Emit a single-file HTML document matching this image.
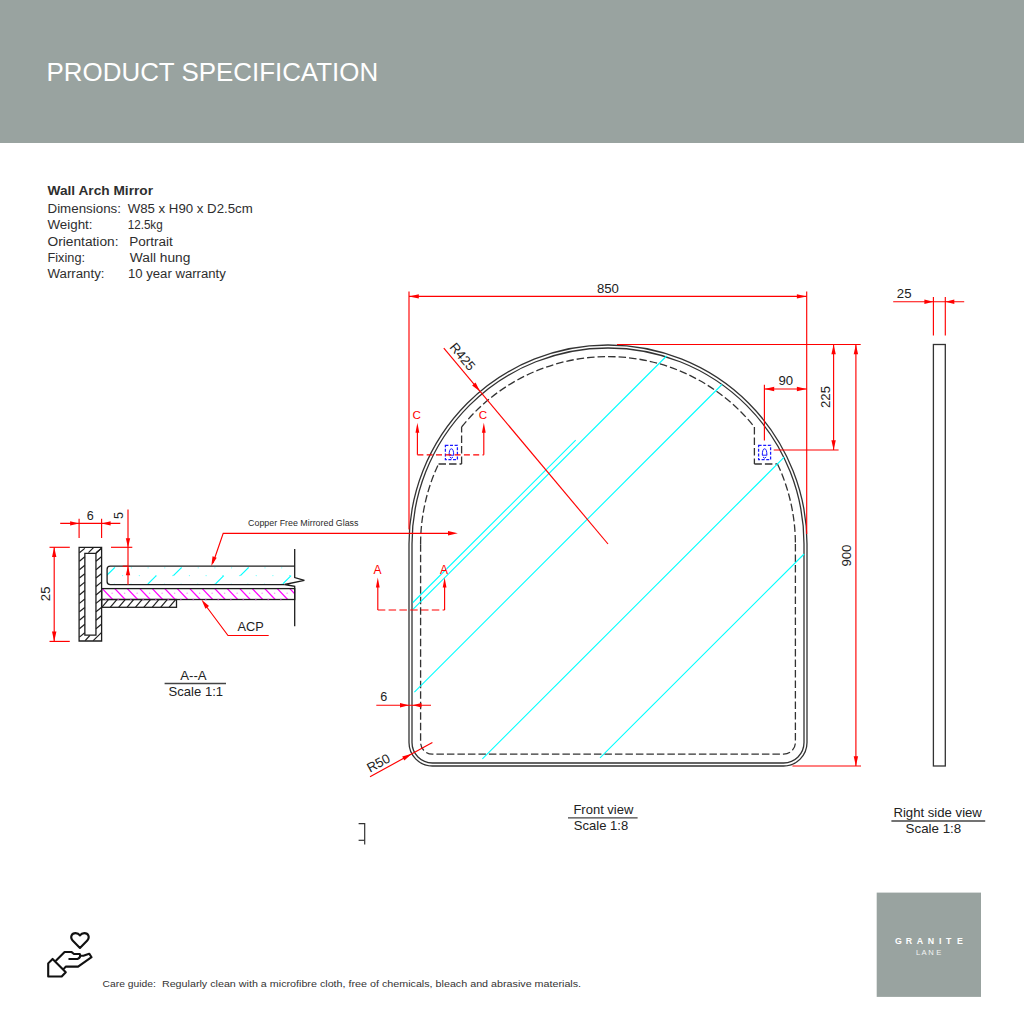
<!DOCTYPE html><html><head><meta charset="utf-8"><style>html,body{margin:0;padding:0;background:#fff;}svg{display:block;} text{font-family:"Liberation Sans",sans-serif;}</style></head><body><svg width="1024" height="1024" viewBox="0 0 1024 1024"><rect x="0" y="0" width="1024" height="143" fill="#99a3a0"/>
<text x="46.6" y="80.8" font-size="25.8" text-anchor="start" fill="#ffffff" font-family="Liberation Sans" font-weight="normal" textLength="331.5" lengthAdjust="spacingAndGlyphs" >PRODUCT SPECIFICATION</text>
<text x="47.5" y="194.8" font-size="12" text-anchor="start" fill="#2e2e2e" font-family="Liberation Sans" font-weight="bold" textLength="105.5" lengthAdjust="spacingAndGlyphs" >Wall Arch Mirror</text>
<text x="47.5" y="212.6" font-size="12" text-anchor="start" fill="#2e2e2e" font-family="Liberation Sans" font-weight="normal" textLength="73.5" lengthAdjust="spacingAndGlyphs" >Dimensions:</text>
<text x="127.7" y="212.6" font-size="12" text-anchor="start" fill="#2e2e2e" font-family="Liberation Sans" font-weight="normal" textLength="125" lengthAdjust="spacingAndGlyphs" >W85 x H90 x D2.5cm</text>
<text x="47.5" y="228.7" font-size="12" text-anchor="start" fill="#2e2e2e" font-family="Liberation Sans" font-weight="normal" textLength="45" lengthAdjust="spacingAndGlyphs" >Weight:</text>
<text x="127.7" y="228.7" font-size="12" text-anchor="start" fill="#2e2e2e" font-family="Liberation Sans" font-weight="normal" textLength="35" lengthAdjust="spacingAndGlyphs" >12.5kg</text>
<text x="47.5" y="245.5" font-size="12" text-anchor="start" fill="#2e2e2e" font-family="Liberation Sans" font-weight="normal" textLength="71" lengthAdjust="spacingAndGlyphs" >Orientation:</text>
<text x="129.2" y="245.5" font-size="12" text-anchor="start" fill="#2e2e2e" font-family="Liberation Sans" font-weight="normal" textLength="43.6" lengthAdjust="spacingAndGlyphs" >Portrait</text>
<text x="47.5" y="262.0" font-size="12" text-anchor="start" fill="#2e2e2e" font-family="Liberation Sans" font-weight="normal" textLength="37.5" lengthAdjust="spacingAndGlyphs" >Fixing:</text>
<text x="129.8" y="262.0" font-size="12" text-anchor="start" fill="#2e2e2e" font-family="Liberation Sans" font-weight="normal" textLength="60.6" lengthAdjust="spacingAndGlyphs" >Wall hung</text>
<text x="47.5" y="278.2" font-size="12" text-anchor="start" fill="#2e2e2e" font-family="Liberation Sans" font-weight="normal" textLength="57" lengthAdjust="spacingAndGlyphs" >Warranty:</text>
<text x="128" y="278.2" font-size="12" text-anchor="start" fill="#2e2e2e" font-family="Liberation Sans" font-weight="normal" textLength="97.8" lengthAdjust="spacingAndGlyphs" >10 year warranty</text>
<path d="M 409,544.0 A 199 199 0 0 1 807,544.0 L 807,742.6 A 23.4 23.4 0 0 1 783.6,766 L 432.4,766 A 23.4 23.4 0 0 1 409,742.6 Z" fill="none" stroke="#333333" stroke-width="1.3"/>
<path d="M 412,544.0 A 196 196 0 0 1 804,544.0 L 804,742.6 A 20.4 20.4 0 0 1 783.6,763 L 432.4,763 A 20.4 20.4 0 0 1 412,742.6 Z" fill="none" stroke="#333333" stroke-width="1.3"/>
<path d="M 420.6,544.0 A 187.4 187.4 0 0 1 438.53,464.0 M 438.53,464.0 L 461.6,464.0 M 461.6,464.0 L 461.6,427.01 M 461.6,427.01 A 187.4 187.4 0 0 1 754.4,427.01 M 754.4,427.01 L 754.4,464.0 M 754.4,464.0 L 777.47,464.0 M 777.47,464.0 A 187.4 187.4 0 0 1 795.4,544.0 M 795.4,544.0 L 795.4,742.4000000000001 A 11.8 11.8 0 0 1 783.6,754.2 L 432.40000000000003,754.2 A 11.8 11.8 0 0 1 420.6,742.4000000000001 L 420.6,544.0" fill="none" stroke="#333333" stroke-width="1.3" stroke-dasharray="7.5 3"/>
<line x1="412.9" y1="602.5" x2="575.7" y2="440.2" stroke="#00ffff" stroke-width="1.1" />
<line x1="413.2" y1="609.1" x2="666.6" y2="356" stroke="#00ffff" stroke-width="1.1" />
<line x1="414.4" y1="692.2" x2="722" y2="384.5" stroke="#00ffff" stroke-width="1.1" />
<line x1="482.4" y1="758.8" x2="784.2" y2="457.2" stroke="#00ffff" stroke-width="1.1" />
<line x1="600" y1="757.9" x2="804.1" y2="554.0" stroke="#00ffff" stroke-width="1.1" />
<rect x="445.4" y="445.4" width="12" height="14.2" fill="none" stroke="#1a1aff" stroke-width="1.25" stroke-dasharray="3 1.6"/>
<path d="M 449.09999999999997,455 Q 449.2,448.8 451.4,448.8 Q 453.59999999999997,448.8 453.7,455 M 448.79999999999995,455.2 H 454.0 M 449.79999999999995,457 L 451.4,458.2 L 453.0,457" fill="none" stroke="#1a1aff" stroke-width="1"/>
<rect x="758.6" y="445.4" width="12" height="14.2" fill="none" stroke="#1a1aff" stroke-width="1.25" stroke-dasharray="3 1.6"/>
<path d="M 762.3000000000001,455 Q 762.4,448.8 764.6,448.8 Q 766.8000000000001,448.8 766.9,455 M 762.0,455.2 H 767.2 M 763.0,457 L 764.6,458.2 L 766.2,457" fill="none" stroke="#1a1aff" stroke-width="1"/>
<line x1="409" y1="291.5" x2="409" y2="529.5" stroke="#ff0000" stroke-width="1.15" />
<line x1="806.7" y1="291.5" x2="806.7" y2="534" stroke="#ff0000" stroke-width="1.15" />
<line x1="409" y1="296.4" x2="806.7" y2="296.4" stroke="#ff0000" stroke-width="1.15" />
<polygon points="409.00,296.40 418.80,294.20 418.80,298.60" fill="#ff0000"/>
<polygon points="806.70,296.40 796.90,298.60 796.90,294.20" fill="#ff0000"/>
<text x="607.9" y="292.7" font-size="13.2" text-anchor="middle" fill="#222" font-family="Liberation Sans" font-weight="normal" >850</text>
<line x1="617" y1="344.5" x2="860.7" y2="344.5" stroke="#ff0000" stroke-width="1.15" />
<line x1="773.7" y1="450" x2="838.6" y2="450" stroke="#ff0000" stroke-width="1.15" />
<line x1="833.6" y1="344.5" x2="833.6" y2="450" stroke="#ff0000" stroke-width="1.15" />
<polygon points="833.60,344.50 835.80,354.30 831.40,354.30" fill="#ff0000"/>
<polygon points="833.60,450.00 831.40,440.20 835.80,440.20" fill="#ff0000"/>
<text x="825.2" y="397" font-size="13.2" text-anchor="middle" fill="#222" font-family="Liberation Sans" font-weight="normal" transform="rotate(-90 825.2 397)" dominant-baseline="central">225</text>
<line x1="855.9" y1="344.5" x2="855.9" y2="766" stroke="#ff0000" stroke-width="1.15" />
<polygon points="855.90,344.50 858.10,354.30 853.70,354.30" fill="#ff0000"/>
<polygon points="855.90,766.00 853.70,756.20 858.10,756.20" fill="#ff0000"/>
<line x1="792.4" y1="766" x2="861" y2="766" stroke="#ff0000" stroke-width="1.15" />
<text x="847" y="555.6" font-size="13.2" text-anchor="middle" fill="#222" font-family="Liberation Sans" font-weight="normal" transform="rotate(-90 847 555.6)" dominant-baseline="central">900</text>
<line x1="764.4" y1="384.7" x2="764.4" y2="440.6" stroke="#ff0000" stroke-width="1.15" />
<line x1="764.4" y1="389" x2="806.7" y2="389" stroke="#ff0000" stroke-width="1.15" />
<polygon points="764.40,389.00 774.20,386.80 774.20,391.20" fill="#ff0000"/>
<polygon points="806.70,389.00 796.90,391.20 796.90,386.80" fill="#ff0000"/>
<text x="785.8" y="385.3" font-size="13.2" text-anchor="middle" fill="#222" font-family="Liberation Sans" font-weight="normal" >90</text>
<line x1="443.8" y1="348.2" x2="608" y2="544" stroke="#ff0000" stroke-width="1.15" />
<polygon points="480.13,391.52 472.15,385.43 475.52,382.60" fill="#ff0000"/>
<text x="462.5" y="356.7" font-size="13.2" text-anchor="middle" fill="#222" font-family="Liberation Sans" font-weight="normal" transform="rotate(50.016438783343126 462.5 356.7)" dominant-baseline="central">R425</text>
<line x1="417.4" y1="454.8" x2="483.8" y2="454.8" stroke="#ff0000" stroke-width="1.15" stroke-dasharray="6 3.3"/>
<line x1="417.4" y1="454.8" x2="417.4" y2="430" stroke="#ff0000" stroke-width="1.15" />
<polygon points="417.40,422.80 419.30,432.80 415.50,432.80" fill="#ff0000"/>
<line x1="483.8" y1="454.8" x2="483.8" y2="430" stroke="#ff0000" stroke-width="1.15" />
<polygon points="483.80,422.80 485.70,432.80 481.90,432.80" fill="#ff0000"/>
<text x="416.6" y="419.4" font-size="11.6" text-anchor="middle" fill="#ff0000" font-family="Liberation Sans" font-weight="normal" >C</text>
<text x="483" y="419.4" font-size="11.6" text-anchor="middle" fill="#ff0000" font-family="Liberation Sans" font-weight="normal" >C</text>
<line x1="377.8" y1="610" x2="444.6" y2="610" stroke="#ff0000" stroke-width="1.15" stroke-dasharray="7.5 3.3"/>
<line x1="377.8" y1="610" x2="377.8" y2="585" stroke="#ff0000" stroke-width="1.15" />
<polygon points="377.80,577.60 379.70,587.60 375.90,587.60" fill="#ff0000"/>
<line x1="444.6" y1="610" x2="444.6" y2="585" stroke="#ff0000" stroke-width="1.15" />
<polygon points="444.60,577.60 446.50,587.60 442.70,587.60" fill="#ff0000"/>
<text x="377.6" y="574.4" font-size="12" text-anchor="middle" fill="#ff0000" font-family="Liberation Sans" font-weight="normal" >A</text>
<text x="444.1" y="574.4" font-size="12" text-anchor="middle" fill="#ff0000" font-family="Liberation Sans" font-weight="normal" >A</text>
<polyline points="451,533.3 223.2,533.3 213,563" fill="none" stroke="#ff0000" stroke-width="1.15"/>
<polygon points="457.80,533.30 448.00,535.50 448.00,531.10" fill="#ff0000"/>
<polygon points="211.30,566.10 212.56,556.14 216.70,557.63" fill="#ff0000"/>
<line x1="376.3" y1="705.2" x2="431" y2="705.2" stroke="#ff0000" stroke-width="1.15" />
<polygon points="409.00,705.20 400.00,707.40 400.00,703.00" fill="#ff0000"/>
<polygon points="412.50,705.20 421.50,703.00 421.50,707.40" fill="#ff0000"/>
<text x="383.7" y="701.3" font-size="12.6" text-anchor="middle" fill="#222" font-family="Liberation Sans" font-weight="normal" >6</text>
<line x1="370" y1="776.7" x2="432.4" y2="742.6" stroke="#ff0000" stroke-width="1.15" />
<polygon points="411.86,753.82 404.32,760.45 402.21,756.59" fill="#ff0000"/>
<text x="378.4" y="763" font-size="13.2" text-anchor="middle" fill="#222" font-family="Liberation Sans" font-weight="normal" transform="rotate(-28.7 378.4 763)" dominant-baseline="central">R50</text>
<polyline points="358.6,823.7 364.7,823.7 364.7,844.6" fill="none" stroke="#333333" stroke-width="1.2"/>
<line x1="358.6" y1="840.3" x2="364.7" y2="840.3" stroke="#333333" stroke-width="1.2" />
<text x="573.4" y="814.2" font-size="12.4" text-anchor="start" fill="#222" font-family="Liberation Sans" font-weight="normal" textLength="60.0" lengthAdjust="spacingAndGlyphs" >Front view</text>
<line x1="568" y1="817.8" x2="637.6" y2="817.8" stroke="#444" stroke-width="1.3" />
<text x="573.8" y="830" font-size="12.4" text-anchor="start" fill="#222" font-family="Liberation Sans" font-weight="normal" textLength="54.4" lengthAdjust="spacingAndGlyphs" >Scale 1:8</text>
<text x="893.4" y="816.8" font-size="12.4" text-anchor="start" fill="#222" font-family="Liberation Sans" font-weight="normal" textLength="88.5" lengthAdjust="spacingAndGlyphs" >Right side view</text>
<line x1="891.4" y1="821" x2="985.2" y2="821" stroke="#444" stroke-width="1.3" />
<text x="905.6" y="832.6" font-size="12.4" text-anchor="start" fill="#222" font-family="Liberation Sans" font-weight="normal" textLength="55.6" lengthAdjust="spacingAndGlyphs" >Scale 1:8</text>
<text x="180.2" y="680.2" font-size="12.4" text-anchor="start" fill="#222" font-family="Liberation Sans" font-weight="normal" textLength="26.4" lengthAdjust="spacingAndGlyphs" >A--A</text>
<line x1="164.6" y1="683.5" x2="226" y2="683.5" stroke="#444" stroke-width="1.3" />
<text x="168.6" y="696" font-size="12.4" text-anchor="start" fill="#222" font-family="Liberation Sans" font-weight="normal" textLength="54.5" lengthAdjust="spacingAndGlyphs" >Scale 1:1</text>
<rect x="933.4" y="344.5" width="11.9" height="421.5" fill="none" stroke="#333333" stroke-width="1.3"/>
<line x1="893.2" y1="301.7" x2="964.2" y2="301.7" stroke="#ff0000" stroke-width="1.15" />
<line x1="933.4" y1="297" x2="933.4" y2="335.6" stroke="#ff0000" stroke-width="1.15" />
<line x1="945.3" y1="297" x2="945.3" y2="335.6" stroke="#ff0000" stroke-width="1.15" />
<polygon points="933.40,301.70 924.40,303.90 924.40,299.50" fill="#ff0000"/>
<polygon points="945.30,301.70 954.30,299.50 954.30,303.90" fill="#ff0000"/>
<text x="904.2" y="298" font-size="13.2" text-anchor="middle" fill="#222" font-family="Liberation Sans" font-weight="normal" >25</text>
<defs><clipPath id="cpg"><path d="M 294.7,566.2 H 110.2 Q 107.1,566.2 107.1,569.3 V 581.5 Q 107.1,584.6 110.2,584.6 H 294.7 Z"/></clipPath><clipPath id="cpa"><rect x="101.7" y="588.6" width="193" height="10.9"/></clipPath><clipPath id="cpb"><rect x="101.7" y="599.5" width="74.8" height="7.8"/></clipPath></defs>
<path d="M 79.1,547.3 H 101.6 V 641.0 H 79.1 Z M 84.85,553.3 V 635.2 H 95.95 V 553.3 Z" fill="none" stroke="#1e1e1e" stroke-width="1.3"/>
<line x1="79.4" y1="552.8" x2="84.8" y2="548.4" stroke="#1e1e1e" stroke-width="1.2" />
<line x1="96.0" y1="552.8" x2="101.4" y2="548.4" stroke="#1e1e1e" stroke-width="1.2" />
<line x1="79.4" y1="561.23" x2="84.8" y2="556.83" stroke="#1e1e1e" stroke-width="1.2" />
<line x1="96.0" y1="561.23" x2="101.4" y2="556.83" stroke="#1e1e1e" stroke-width="1.2" />
<line x1="79.4" y1="569.66" x2="84.8" y2="565.26" stroke="#1e1e1e" stroke-width="1.2" />
<line x1="96.0" y1="569.66" x2="101.4" y2="565.26" stroke="#1e1e1e" stroke-width="1.2" />
<line x1="79.4" y1="578.09" x2="84.8" y2="573.69" stroke="#1e1e1e" stroke-width="1.2" />
<line x1="96.0" y1="578.09" x2="101.4" y2="573.69" stroke="#1e1e1e" stroke-width="1.2" />
<line x1="79.4" y1="586.52" x2="84.8" y2="582.12" stroke="#1e1e1e" stroke-width="1.2" />
<line x1="96.0" y1="586.52" x2="101.4" y2="582.12" stroke="#1e1e1e" stroke-width="1.2" />
<line x1="79.4" y1="594.95" x2="84.8" y2="590.55" stroke="#1e1e1e" stroke-width="1.2" />
<line x1="96.0" y1="594.95" x2="101.4" y2="590.55" stroke="#1e1e1e" stroke-width="1.2" />
<line x1="79.4" y1="603.38" x2="84.8" y2="598.98" stroke="#1e1e1e" stroke-width="1.2" />
<line x1="96.0" y1="603.38" x2="101.4" y2="598.98" stroke="#1e1e1e" stroke-width="1.2" />
<line x1="79.4" y1="611.81" x2="84.8" y2="607.41" stroke="#1e1e1e" stroke-width="1.2" />
<line x1="96.0" y1="611.81" x2="101.4" y2="607.41" stroke="#1e1e1e" stroke-width="1.2" />
<line x1="79.4" y1="620.24" x2="84.8" y2="615.84" stroke="#1e1e1e" stroke-width="1.2" />
<line x1="96.0" y1="620.24" x2="101.4" y2="615.84" stroke="#1e1e1e" stroke-width="1.2" />
<line x1="79.4" y1="628.67" x2="84.8" y2="624.27" stroke="#1e1e1e" stroke-width="1.2" />
<line x1="96.0" y1="628.67" x2="101.4" y2="624.27" stroke="#1e1e1e" stroke-width="1.2" />
<line x1="79.4" y1="637.1" x2="84.8" y2="632.7" stroke="#1e1e1e" stroke-width="1.2" />
<line x1="88.5" y1="552.6" x2="93.5" y2="547.6" stroke="#1e1e1e" stroke-width="1.2" />
<line x1="96.0" y1="553.4" x2="101.4" y2="548.2" stroke="#1e1e1e" stroke-width="1.2" />
<line x1="85.2" y1="640.6" x2="89.8" y2="635.5" stroke="#1e1e1e" stroke-width="1.2" />
<line x1="93.2" y1="640.6" x2="101.4" y2="632.6" stroke="#1e1e1e" stroke-width="1.2" />
<rect x="101.7" y="599.5" width="74.8" height="7.8" fill="none" stroke="#1e1e1e" stroke-width="1.3"/>
<g clip-path="url(#cpb)"><line x1="101.8" y1="607.3" x2="108.4" y2="599.7" stroke="#1e1e1e" stroke-width="1.2" /><line x1="110.2" y1="607.3" x2="116.8" y2="599.7" stroke="#1e1e1e" stroke-width="1.2" /><line x1="118.6" y1="607.3" x2="125.2" y2="599.7" stroke="#1e1e1e" stroke-width="1.2" /><line x1="127.0" y1="607.3" x2="133.6" y2="599.7" stroke="#1e1e1e" stroke-width="1.2" /><line x1="135.4" y1="607.3" x2="142.0" y2="599.7" stroke="#1e1e1e" stroke-width="1.2" /><line x1="143.8" y1="607.3" x2="150.4" y2="599.7" stroke="#1e1e1e" stroke-width="1.2" /><line x1="152.2" y1="607.3" x2="158.8" y2="599.7" stroke="#1e1e1e" stroke-width="1.2" /><line x1="160.6" y1="607.3" x2="167.2" y2="599.7" stroke="#1e1e1e" stroke-width="1.2" /><line x1="169.0" y1="607.3" x2="175.6" y2="599.7" stroke="#1e1e1e" stroke-width="1.2" /><line x1="177.4" y1="607.3" x2="184.0" y2="599.7" stroke="#1e1e1e" stroke-width="1.2" /></g>
<g clip-path="url(#cpa)"><line x1="102.3" y1="588.6" x2="112.7" y2="599.5" stroke="#ff00ff" stroke-width="1.25" /><line x1="114.8" y1="588.6" x2="125.2" y2="599.5" stroke="#ff00ff" stroke-width="1.25" /><line x1="127.3" y1="588.6" x2="137.7" y2="599.5" stroke="#ff00ff" stroke-width="1.25" /><line x1="139.8" y1="588.6" x2="150.2" y2="599.5" stroke="#ff00ff" stroke-width="1.25" /><line x1="152.3" y1="588.6" x2="162.7" y2="599.5" stroke="#ff00ff" stroke-width="1.25" /><line x1="164.8" y1="588.6" x2="175.2" y2="599.5" stroke="#ff00ff" stroke-width="1.25" /><line x1="177.3" y1="588.6" x2="187.7" y2="599.5" stroke="#ff00ff" stroke-width="1.25" /><line x1="189.8" y1="588.6" x2="200.2" y2="599.5" stroke="#ff00ff" stroke-width="1.25" /><line x1="202.3" y1="588.6" x2="212.7" y2="599.5" stroke="#ff00ff" stroke-width="1.25" /><line x1="214.8" y1="588.6" x2="225.2" y2="599.5" stroke="#ff00ff" stroke-width="1.25" /><line x1="227.3" y1="588.6" x2="237.7" y2="599.5" stroke="#ff00ff" stroke-width="1.25" /><line x1="239.8" y1="588.6" x2="250.2" y2="599.5" stroke="#ff00ff" stroke-width="1.25" /><line x1="252.3" y1="588.6" x2="262.7" y2="599.5" stroke="#ff00ff" stroke-width="1.25" /><line x1="264.8" y1="588.6" x2="275.2" y2="599.5" stroke="#ff00ff" stroke-width="1.25" /><line x1="277.3" y1="588.6" x2="287.7" y2="599.5" stroke="#ff00ff" stroke-width="1.25" /><line x1="289.8" y1="588.6" x2="300.2" y2="599.5" stroke="#ff00ff" stroke-width="1.25" /></g>
<circle cx="112.1" cy="593.2" r="0.75" fill="#ff88ff"/>
<circle cx="124.6" cy="593.2" r="0.75" fill="#ff88ff"/>
<circle cx="137.1" cy="593.2" r="0.75" fill="#ff88ff"/>
<circle cx="149.6" cy="593.2" r="0.75" fill="#ff88ff"/>
<circle cx="162.1" cy="593.2" r="0.75" fill="#ff88ff"/>
<circle cx="174.6" cy="593.2" r="0.75" fill="#ff88ff"/>
<circle cx="187.1" cy="593.2" r="0.75" fill="#ff88ff"/>
<circle cx="199.6" cy="593.2" r="0.75" fill="#ff88ff"/>
<circle cx="212.1" cy="593.2" r="0.75" fill="#ff88ff"/>
<circle cx="224.6" cy="593.2" r="0.75" fill="#ff88ff"/>
<circle cx="237.1" cy="593.2" r="0.75" fill="#ff88ff"/>
<circle cx="249.6" cy="593.2" r="0.75" fill="#ff88ff"/>
<circle cx="262.1" cy="593.2" r="0.75" fill="#ff88ff"/>
<circle cx="274.6" cy="593.2" r="0.75" fill="#ff88ff"/>
<circle cx="287.1" cy="593.2" r="0.75" fill="#ff88ff"/>
<rect x="101.7" y="588.6" width="193" height="10.9" fill="none" stroke="#1e1e1e" stroke-width="1.3"/>
<rect x="105.0" y="598.9" width="1.6" height="1.2" fill="#aa22aa"/>
<rect x="117.5" y="598.9" width="1.6" height="1.2" fill="#aa22aa"/>
<rect x="130.0" y="598.9" width="1.6" height="1.2" fill="#aa22aa"/>
<rect x="142.5" y="598.9" width="1.6" height="1.2" fill="#aa22aa"/>
<rect x="155.0" y="598.9" width="1.6" height="1.2" fill="#aa22aa"/>
<rect x="167.5" y="598.9" width="1.6" height="1.2" fill="#aa22aa"/>
<rect x="180.0" y="598.9" width="1.6" height="1.2" fill="#aa22aa"/>
<rect x="192.5" y="598.9" width="1.6" height="1.2" fill="#aa22aa"/>
<rect x="205.0" y="598.9" width="1.6" height="1.2" fill="#aa22aa"/>
<rect x="217.5" y="598.9" width="1.6" height="1.2" fill="#aa22aa"/>
<rect x="230.0" y="598.9" width="1.6" height="1.2" fill="#aa22aa"/>
<rect x="242.5" y="598.9" width="1.6" height="1.2" fill="#aa22aa"/>
<rect x="255.0" y="598.9" width="1.6" height="1.2" fill="#aa22aa"/>
<rect x="267.5" y="598.9" width="1.6" height="1.2" fill="#aa22aa"/>
<rect x="280.0" y="598.9" width="1.6" height="1.2" fill="#aa22aa"/>
<g clip-path="url(#cpg)"><line x1="106.6" y1="575.6" x2="114.9" y2="567.3" stroke="#00ffff" stroke-width="1.2" /><line x1="173.4" y1="575.6" x2="181.7" y2="567.3" stroke="#00ffff" stroke-width="1.2" /><line x1="240.4" y1="575.6" x2="248.7" y2="567.3" stroke="#00ffff" stroke-width="1.2" /><line x1="148" y1="583.9" x2="156.3" y2="575.6" stroke="#00ffff" stroke-width="1.2" /><line x1="215.5" y1="583.9" x2="223.8" y2="575.6" stroke="#00ffff" stroke-width="1.2" /><line x1="282.8" y1="583.9" x2="291.1" y2="575.6" stroke="#00ffff" stroke-width="1.2" /><circle cx="131.4" cy="567.8" r="0.6" fill="#66ffff"/><circle cx="122.6" cy="575.6" r="0.6" fill="#66ffff"/><circle cx="114.3" cy="584.2" r="0.6" fill="#66ffff"/><circle cx="148.1" cy="567.8" r="0.6" fill="#66ffff"/><circle cx="139.3" cy="575.6" r="0.6" fill="#66ffff"/><circle cx="131.0" cy="584.2" r="0.6" fill="#66ffff"/><circle cx="164.8" cy="567.8" r="0.6" fill="#66ffff"/><circle cx="156.0" cy="575.6" r="0.6" fill="#66ffff"/><circle cx="147.7" cy="584.2" r="0.6" fill="#66ffff"/><circle cx="181.5" cy="567.8" r="0.6" fill="#66ffff"/><circle cx="172.7" cy="575.6" r="0.6" fill="#66ffff"/><circle cx="164.4" cy="584.2" r="0.6" fill="#66ffff"/><circle cx="198.2" cy="567.8" r="0.6" fill="#66ffff"/><circle cx="189.4" cy="575.6" r="0.6" fill="#66ffff"/><circle cx="181.1" cy="584.2" r="0.6" fill="#66ffff"/><circle cx="214.9" cy="567.8" r="0.6" fill="#66ffff"/><circle cx="206.1" cy="575.6" r="0.6" fill="#66ffff"/><circle cx="197.8" cy="584.2" r="0.6" fill="#66ffff"/><circle cx="231.6" cy="567.8" r="0.6" fill="#66ffff"/><circle cx="222.8" cy="575.6" r="0.6" fill="#66ffff"/><circle cx="214.5" cy="584.2" r="0.6" fill="#66ffff"/><circle cx="248.3" cy="567.8" r="0.6" fill="#66ffff"/><circle cx="239.5" cy="575.6" r="0.6" fill="#66ffff"/><circle cx="231.2" cy="584.2" r="0.6" fill="#66ffff"/><circle cx="265.0" cy="567.8" r="0.6" fill="#66ffff"/><circle cx="256.2" cy="575.6" r="0.6" fill="#66ffff"/><circle cx="247.9" cy="584.2" r="0.6" fill="#66ffff"/><circle cx="281.7" cy="567.8" r="0.6" fill="#66ffff"/><circle cx="272.9" cy="575.6" r="0.6" fill="#66ffff"/><circle cx="264.6" cy="584.2" r="0.6" fill="#66ffff"/><circle cx="298.4" cy="567.8" r="0.6" fill="#66ffff"/><circle cx="289.6" cy="575.6" r="0.6" fill="#66ffff"/><circle cx="281.3" cy="584.2" r="0.6" fill="#66ffff"/></g>
<path d="M 294.7,566.2 H 110.2 Q 107.1,566.2 107.1,569.3 V 581.5 Q 107.1,584.6 110.2,584.6 H 284.6" fill="none" stroke="#1e1e1e" stroke-width="1.3"/>
<polyline points="294.7,549 294.7,577.5 304.4,580.4 284.6,584.5 294.7,586.3 294.7,626.3" fill="none" stroke="#1e1e1e" stroke-width="1.3" stroke-linejoin="miter"/>
<line x1="49.5" y1="547.3" x2="69.8" y2="547.3" stroke="#ff0000" stroke-width="1.15" />
<line x1="49.5" y1="641.4" x2="69.8" y2="641.4" stroke="#ff0000" stroke-width="1.15" />
<line x1="54.2" y1="547.3" x2="54.2" y2="641.4" stroke="#ff0000" stroke-width="1.15" />
<polygon points="54.20,547.30 56.40,557.10 52.00,557.10" fill="#ff0000"/>
<polygon points="54.20,641.40 52.00,631.60 56.40,631.60" fill="#ff0000"/>
<text x="45.6" y="593.8" font-size="13.2" text-anchor="middle" fill="#222" font-family="Liberation Sans" font-weight="normal" transform="rotate(-90 45.6 593.8)" dominant-baseline="central">25</text>
<line x1="79.1" y1="518.8" x2="79.1" y2="538" stroke="#ff0000" stroke-width="1.15" />
<line x1="101.6" y1="518.8" x2="101.6" y2="538" stroke="#ff0000" stroke-width="1.15" />
<line x1="60.2" y1="523.4" x2="120.3" y2="523.4" stroke="#ff0000" stroke-width="1.15" />
<polygon points="79.10,523.40 70.10,525.60 70.10,521.20" fill="#ff0000"/>
<polygon points="101.60,523.40 110.60,521.20 110.60,525.60" fill="#ff0000"/>
<text x="90.2" y="519.5" font-size="12.6" text-anchor="middle" fill="#222" font-family="Liberation Sans" font-weight="normal" >6</text>
<line x1="111" y1="547.3" x2="132.3" y2="547.3" stroke="#ff0000" stroke-width="1.15" />
<line x1="122.7" y1="566.2" x2="128" y2="566.2" stroke="#ff0000" stroke-width="1.15" />
<line x1="128" y1="509.4" x2="128" y2="584.7" stroke="#ff0000" stroke-width="1.15" />
<polygon points="128.00,547.30 125.80,538.30 130.20,538.30" fill="#ff0000"/>
<polygon points="128.00,566.20 130.20,575.20 125.80,575.20" fill="#ff0000"/>
<text x="119.4" y="515.6" font-size="12.6" text-anchor="middle" fill="#222" font-family="Liberation Sans" font-weight="normal" transform="rotate(-90 119.4 515.6)" dominant-baseline="central">5</text>
<text x="248.1" y="526.3" font-size="8.3" text-anchor="start" fill="#2a2a2a" font-family="Liberation Sans" font-weight="normal" textLength="110.4" lengthAdjust="spacingAndGlyphs" >Copper Free Mirrored Glass</text>
<polyline points="268.7,635.5 228,635.5 206,606" fill="none" stroke="#ff0000" stroke-width="1.15"/>
<polygon points="201.40,599.50 208.99,606.07 205.45,608.69" fill="#ff0000"/>
<text x="237.5" y="630.5" font-size="12.4" text-anchor="start" fill="#222" font-family="Liberation Sans" font-weight="normal" textLength="26.2" lengthAdjust="spacingAndGlyphs" >ACP</text>
<g transform="translate(40,925) scale(0.05859)" fill="none" stroke="#111" stroke-width="36" stroke-linejoin="round" stroke-linecap="round"><path d="M 682,392 L 557,264 C 510,214 535,138 608,138 C 645,138 668,158 682,178 C 696,158 719,138 756,138 C 829,138 854,214 807,264 Z"/><path d="M 140,655 L 215,580 L 440,805 L 370,880 L 140,880 Z"/><path d="M 275,605 L 420,460 L 535,460 L 580,495 L 680,495 Q 700,560 640,580 L 500,580"/><path d="M 690,525 L 740,525 L 840,490 L 880,550 L 650,710 L 440,710 L 410,745"/></g>
<text x="102.6" y="986.6" font-size="8.8" text-anchor="start" fill="#333" font-family="Liberation Sans" font-weight="normal" textLength="53.2" lengthAdjust="spacingAndGlyphs" >Care guide:</text>
<text x="161.9" y="986.6" font-size="8.8" text-anchor="start" fill="#333" font-family="Liberation Sans" font-weight="normal" textLength="419.2" lengthAdjust="spacingAndGlyphs" >Regularly clean with a microfibre cloth, free of chemicals, bleach and abrasive materials.</text>
<rect x="876.7" y="892.6" width="104.3" height="104.3" fill="#99a3a0"/>
<text x="894.9 905.8 916.7 927.7 938.9 946.1 957" y="944" font-size="8.8" font-weight="bold" fill="#ffffff" font-family="Liberation Sans">GRANITE</text>
<text x="916 921.6 928.2 936.2" y="954.5" font-size="7.6" fill="#f2f4f3" font-family="Liberation Sans">LANE</text></svg></body></html>
